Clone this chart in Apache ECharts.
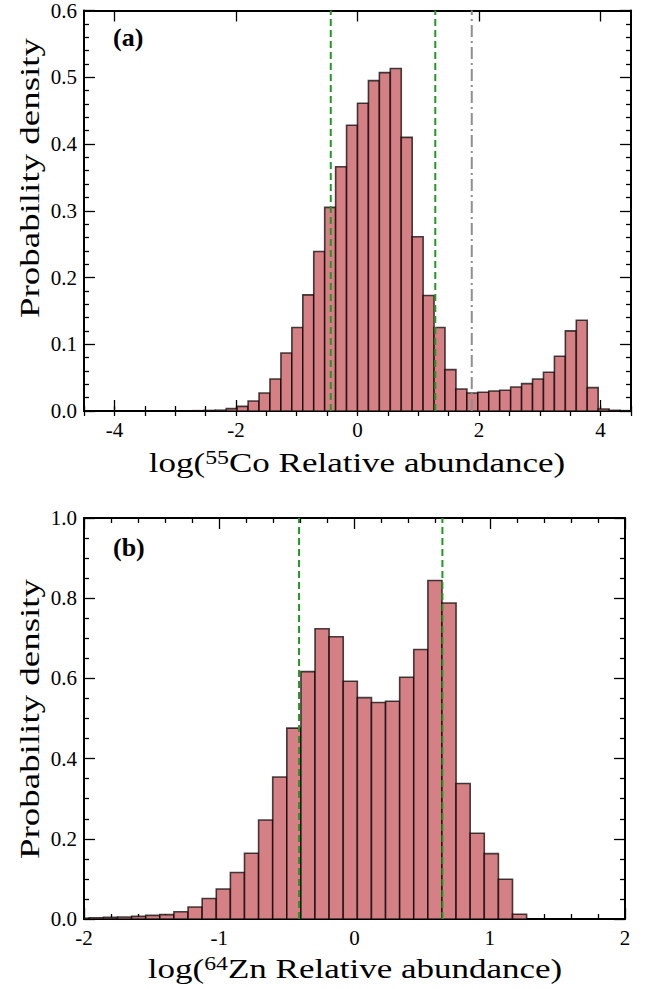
<!DOCTYPE html>
<html><head><meta charset="utf-8">
<script src="https://cdn.jsdelivr.net/npm/echarts@6/dist/echarts.min.js"></script>
<style>html,body{margin:0;padding:0;background:#fff}#c{width:651px;height:989px}</style>
</head><body><div id="c"></div>
<script>
// ---------- Panel (a): 55Co ----------
const binStartA = -4.5;
const binWidthA = 0.18;
const densityA = [
  0, 0, 0, 0, 0, 0, 0, 0, 0.0002, 0.0003,
  0.0005, 0.0008, 0.0012, 0.0035, 0.007, 0.015, 0.027, 0.048, 0.087, 0.125,
  0.174, 0.239, 0.305, 0.366, 0.428, 0.461, 0.495, 0.507, 0.513, 0.410,
  0.261, 0.173, 0.125, 0.062, 0.033, 0.027, 0.028, 0.030, 0.031, 0.036,
  0.041, 0.048, 0.058, 0.082, 0.120, 0.136, 0.035, 0.003, 0.001, 0.0005
];
const xTickLabelsA = [-4, -2, 0, 2, 4];
const greenLinesA = [-0.44, 1.28];
const grayLinesA = [1.88];

// ---------- Panel (b): 64Zn ----------
const binStartB = -2.065;
const binWidthB = 0.1043;
const densityB = [
  0.002, 0.003, 0.004, 0.005, 0.0066, 0.009, 0.011, 0.018, 0.030, 0.051,
  0.075, 0.116, 0.164, 0.247, 0.354, 0.476, 0.617, 0.724, 0.704, 0.593,
  0.552, 0.540, 0.543, 0.603, 0.672, 0.844, 0.788, 0.338, 0.214, 0.163,
  0.099, 0.012
];
const greenLinesB = [-0.41, 0.65];

// ---------- text ----------
const xTitleA = ['log(', '55', 'Co Relative abundance)'];
const xTitleB = ['log(', '64', 'Zn Relative abundance)'];
const yTitle = 'Probability density';

// ---------- styling ----------
const FONT = '"Liberation Serif", "Times New Roman", serif';
const TICK_FS = 21;
const NAME_FS = 28;
const STRETCH_X = 1.25;
const STRETCH_Y = 1.32;
const BAR_FILL = '#d58084';
const BAR_EDGE = 'rgba(0,0,0,0.72)';

function bins(start, width, vals) {
  return vals.map((v, i) => [start + i * width, start + (i + 1) * width, v]);
}
function histItem(params, api) {
  const p0 = api.coord([api.value(0), api.value(2)]);
  const p1 = api.coord([api.value(1), 0]);
  const cs = params.coordSys;
  const r = echarts.graphic.clipRectByRect(
    {x: p0[0], y: p0[1], width: p1[0] - p0[0], height: p1[1] - p0[1]},
    {x: cs.x, y: cs.y, width: cs.width, height: cs.height});
  if (!r) return null;
  return {type: 'rect', shape: r, style: {fill: BAR_FILL, stroke: BAR_EDGE, lineWidth: 1.6}};
}
function vline(x, ymax, xi, yi, color, type) {
  return {type: 'line', xAxisIndex: xi, yAxisIndex: yi, data: [[x, 0], [x, ymax]],
    symbol: 'none', silent: true, animation: false, z: 5,
    lineStyle: {color: color, width: 2, type: type}};
}
const lineBlack = {color: '#000', width: 2};
const tickLine = {color: '#000', width: 1.3};
const labelStyle = {fontFamily: FONT, fontSize: TICK_FS, color: '#000'};

function xTitleGraphic(parts, cx, cy) {
  return {type: 'text', x: cx, y: cy, scaleX: STRETCH_X, silent: true, z: 10,
    style: {text: '{t|' + parts[0] + '}{s|' + parts[1] + '}{t|' + parts[2] + '}',
      align: 'center', verticalAlign: 'middle', fill: '#000',
      rich: {
        t: {fontSize: NAME_FS, fontFamily: FONT, fill: '#000', lineHeight: 30},
        s: {fontSize: 19, fontFamily: FONT, fill: '#000', verticalAlign: 'top', lineHeight: 17}
      }}};
}
function yTitleGraphic(cx, cy) {
  return {type: 'text', x: cx, y: cy, rotation: Math.PI / 2, scaleX: STRETCH_Y, silent: true, z: 10,
    style: {text: yTitle, align: 'center', verticalAlign: 'middle', fill: '#000',
      fontSize: NAME_FS, fontFamily: FONT}};
}

const option = {
  animation: false,
  backgroundColor: '#fff',
  title: [
    {text: '(a)', left: 108, top: 19, textStyle: {fontFamily: FONT, fontSize: 26, fontWeight: 'bold', color: '#000'}},
    {text: '(b)', left: 108, top: 529, textStyle: {fontFamily: FONT, fontSize: 26, fontWeight: 'bold', color: '#000'}}
  ],
  graphic: [
    xTitleGraphic(xTitleA, 357, 463),
    xTitleGraphic(xTitleB, 355, 969),
    yTitleGraphic(30, 178),
    yTitleGraphic(30, 719)
  ],
  grid: [
    {left: 84, top: 9, width: 547, height: 402, containLabel: false},
    {left: 84, top: 518, width: 541, height: 401, containLabel: false}
  ],
  xAxis: [
    // 0: panel a, bottom, major ticks + labels
    {gridIndex: 0, type: 'value', position: 'bottom', min: -4.5, max: 4.5,
      axisLine: {show: true, onZero: false, lineStyle: lineBlack},
      axisTick: {show: true, inside: true, length: 11, customValues: xTickLabelsA, lineStyle: tickLine},
      axisLabel: Object.assign({show: true, customValues: xTickLabelsA, formatter: v => String(v), margin: 8}, labelStyle),
      splitLine: {show: false}},
    // 1: panel a, bottom minor ticks
    {gridIndex: 0, type: 'value', position: 'bottom', min: -4.5, max: 4.5, interval: 0.5,
      axisLine: {show: false}, axisTick: {show: true, inside: true, length: 5, lineStyle: tickLine},
      axisLabel: {show: false}, splitLine: {show: false}},
    // 2: panel a, top major
    {gridIndex: 0, type: 'value', position: 'top', min: -4.5, max: 4.5,
      axisLine: {show: true, onZero: false, lineStyle: lineBlack},
      axisTick: {show: true, inside: true, length: 11, customValues: xTickLabelsA, lineStyle: tickLine},
      axisLabel: {show: false}, splitLine: {show: false}},
    // 3: panel a, top minor
    {gridIndex: 0, type: 'value', position: 'top', min: -4.5, max: 4.5, interval: 0.5,
      axisLine: {show: false}, axisTick: {show: true, inside: true, length: 5, lineStyle: tickLine},
      axisLabel: {show: false}, splitLine: {show: false}},
    // 4: panel b bottom
    {gridIndex: 1, type: 'value', position: 'bottom', min: -2, max: 2, interval: 1,
      axisLine: {show: true, onZero: false, lineStyle: lineBlack},
      axisTick: {show: true, inside: true, length: 11, lineStyle: tickLine},
      minorTick: {show: true, splitNumber: 5, length: 5, lineStyle: tickLine},
      axisLabel: Object.assign({show: true, formatter: v => String(v), margin: 8}, labelStyle),
      splitLine: {show: false}},
    // 5: panel b top
    {gridIndex: 1, type: 'value', position: 'top', min: -2, max: 2, interval: 1,
      axisLine: {show: true, onZero: false, lineStyle: lineBlack},
      axisTick: {show: true, inside: true, length: 11, lineStyle: tickLine},
      minorTick: {show: true, splitNumber: 5, length: 5, lineStyle: tickLine},
      axisLabel: {show: false}, splitLine: {show: false}}
  ],
  yAxis: [
    {gridIndex: 0, type: 'value', position: 'left', min: 0, max: 0.6, interval: 0.1,
      axisLine: {show: true, onZero: false, lineStyle: lineBlack},
      axisTick: {show: true, inside: true, length: 11, lineStyle: tickLine},
      minorTick: {show: true, splitNumber: 5, length: 5, lineStyle: tickLine},
      axisLabel: Object.assign({formatter: v => v.toFixed(1), margin: 7}, labelStyle),
      splitLine: {show: false}},
    {gridIndex: 0, type: 'value', position: 'right', min: 0, max: 0.6, interval: 0.1,
      axisLine: {show: true, onZero: false, lineStyle: lineBlack},
      axisTick: {show: true, inside: true, length: 11, lineStyle: tickLine},
      minorTick: {show: true, splitNumber: 5, length: 5, lineStyle: tickLine},
      axisLabel: {show: false}, splitLine: {show: false}},
    {gridIndex: 1, type: 'value', position: 'left', min: 0, max: 1.0, interval: 0.2,
      axisLine: {show: true, onZero: false, lineStyle: lineBlack},
      axisTick: {show: true, inside: true, length: 11, lineStyle: tickLine},
      minorTick: {show: true, splitNumber: 4, length: 5, lineStyle: tickLine},
      axisLabel: Object.assign({formatter: v => v.toFixed(1), margin: 7}, labelStyle),
      splitLine: {show: false}},
    {gridIndex: 1, type: 'value', position: 'right', min: 0, max: 1.0, interval: 0.2,
      axisLine: {show: true, onZero: false, lineStyle: lineBlack},
      axisTick: {show: true, inside: true, length: 11, lineStyle: tickLine},
      minorTick: {show: true, splitNumber: 4, length: 5, lineStyle: tickLine},
      axisLabel: {show: false}, splitLine: {show: false}}
  ],
  series: [
    {type: 'custom', name: '55Co', xAxisIndex: 0, yAxisIndex: 0, renderItem: histItem,
      encode: {x: [0, 1], y: 2}, data: bins(binStartA, binWidthA, densityA), z: 2, silent: true},
    {type: 'custom', name: '64Zn', xAxisIndex: 4, yAxisIndex: 2, renderItem: histItem,
      encode: {x: [0, 1], y: 2}, data: bins(binStartB, binWidthB, densityB), z: 2, silent: true}
  ]
};
greenLinesA.forEach(x => option.series.push(vline(x, 0.6, 0, 0, '#229922', [7, 4])));
grayLinesA.forEach(x => option.series.push(vline(x, 0.6, 0, 0, '#8e8e8e', [12, 4, 2, 4])));
greenLinesB.forEach(x => option.series.push(vline(x, 1.0, 4, 2, '#229922', [7, 4])));

const chart = echarts.init(document.getElementById('c'), null, {renderer: 'svg'});
chart.setOption(option);
</script>
</body></html>
